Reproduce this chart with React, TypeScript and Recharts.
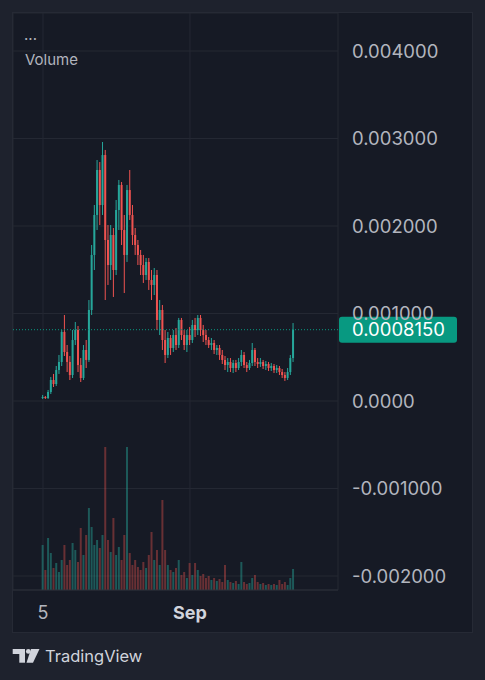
import React from 'react';
import { ComposedChart, Bar, XAxis, YAxis, CartesianGrid, ReferenceLine, Cell } from 'recharts';

// 12-hour candles, day offset counted from 5 Aug (day 0); 1 Sep = day 27
const FIRST_DAY = 0;
const STEP_DAYS = 0.5;

// OHLC in micro-units (x 1e-6)
const openMicro = [
  34, 46, 34, 103, 240, 194, 354, 446, 789, 560,
  446, 297, 697, 811, 411, 263, 583, 469, 1040, 1669,
  2126, 2640, 2240, 2811, 1840, 1554, 1897, 1497, 2183, 2469,
  1954, 1669, 2411, 2126, 1897, 1783, 1669, 1554, 1440, 1589,
  1383, 1326, 1440, 926, 1040, 697, 526, 720, 606, 754,
  640, 926, 754, 640, 754, 697, 869, 811, 949, 811,
  754, 697, 640, 663, 583, 606, 526, 469, 411, 446,
  377, 434, 377, 446, 526, 411, 377, 434, 583, 446,
  423, 446, 400, 423, 377, 400, 354, 377, 331, 297,
  263, 331, 491,
];
const closeMicro = [
  46, 34, 103, 240, 194, 354, 446, 789, 560, 446,
  297, 697, 811, 411, 263, 583, 469, 1040, 1669, 2126,
  2640, 2240, 2811, 1840, 1554, 1897, 1497, 2183, 2469, 1954,
  1669, 2411, 2126, 1897, 1783, 1669, 1554, 1440, 1589, 1383,
  1326, 1440, 926, 1040, 697, 526, 720, 606, 754, 640,
  926, 754, 640, 754, 697, 869, 811, 949, 811, 754,
  697, 640, 663, 583, 606, 526, 469, 411, 446, 377,
  434, 377, 446, 526, 411, 377, 434, 583, 446, 423,
  446, 400, 423, 377, 400, 354, 377, 331, 297, 263,
  331, 491, 815,
];
const highMicro = [
  69, 57, 126, 274, 309, 400, 526, 811, 983, 640,
  514, 811, 903, 857, 491, 640, 697, 1154, 1783, 2240,
  2754, 2731, 2960, 2869, 2011, 2011, 1977, 2297, 2526, 2503,
  2126, 2469, 2640, 2240, 1977, 1840, 1726, 1669, 1634, 1634,
  1497, 1520, 1497, 1154, 1097, 811, 789, 754, 811, 834,
  949, 949, 811, 811, 846, 926, 949, 983, 983, 869,
  811, 731, 720, 697, 640, 640, 583, 514, 491, 491,
  469, 469, 491, 583, 560, 446, 469, 663, 606, 491,
  491, 469, 457, 446, 434, 423, 411, 400, 366, 331,
  377, 526, 891,
];
const lowMicro = [
  23, 23, 23, 80, 160, 171, 309, 400, 514, 331,
  240, 263, 640, 331, 217, 240, 377, 446, 983, 1497,
  1954, 2011, 2126, 1154, 1326, 1383, 1189, 1440, 1954, 1783,
  1234, 1589, 2069, 1783, 1669, 1554, 1440, 1349, 1383, 1269,
  1154, 1211, 811, 754, 583, 434, 491, 526, 560, 583,
  606, 697, 583, 560, 640, 663, 731, 754, 743, 674,
  640, 606, 583, 537, 526, 469, 423, 354, 331, 331,
  320, 331, 354, 400, 377, 331, 354, 400, 400, 377,
  389, 366, 354, 343, 343, 320, 320, 297, 263, 229,
  240, 297, 446,
];
const volume = [
  45, 20, 52, 37, 22, 27, 18, 30, 45, 25,
  30, 47, 40, 28, 62, 35, 55, 82, 63, 45,
  50, 42, 55, 143, 50, 38, 72, 35, 43, 30,
  55, 143, 37, 25, 30, 23, 20, 28, 22, 35,
  58, 30, 40, 25, 90, 40, 25, 20, 18, 22,
  30, 15, 18, 12, 27, 15, 27, 20, 14, 16,
  12, 14, 10, 12, 9, 11, 8, 25, 10, 8,
  7, 9, 6, 28, 8, 6, 7, 12, 15, 8,
  6, 7, 5, 6, 5, 6, 5, 10, 6, 8,
  5, 12, 21,
];

const priceTicks = [0.004, 0.003, 0.002, 0.001, 0, -0.001, -0.002];
const timeTicks = [0, 27];
const timeTickLabels: Record<number, string> = { 0: '5', 27: 'Sep' };
const boldTimeTicks = [27];

const UP = '#26a69a';
const DOWN = '#ef5350';
const VOL_UP = 'rgba(38,166,154,0.45)';
const VOL_DOWN = 'rgba(239,83,80,0.38)';
const LAST_BG = '#089981';
const TEXT = '#b2b5be';
const GRID = '#242833';
const FONT = 'Inter, "Noto Sans", sans-serif';

const data = closeMicro.map((c, i) => {
  const open = openMicro[i] * 1e-6;
  const close = c * 1e-6;
  const high = highMicro[i] * 1e-6;
  const low = lowMicro[i] * 1e-6;
  return {
    day: FIRST_DAY + i * STEP_DAYS,
    open,
    close,
    high,
    low,
    range: [low, high],
    vol: volume[i],
    up: close >= open,
  };
});
const lastClose = data[data.length - 1].close;

const Candle = (props: any) => {
  const { x, y, width, height, payload } = props;
  if (x == null || y == null) return null;
  const top = Math.min(y, y + height);
  const h = Math.abs(height);
  const { open, close, high, low } = payload;
  const span = high - low || 1;
  const py = (v: number) => top + ((high - v) / span) * h;
  const color = close >= open ? UP : DOWN;
  const cx = x + width / 2;
  const bTop = py(Math.max(open, close));
  const bBot = py(Math.min(open, close));
  return (
    <g>
      <line x1={cx} x2={cx} y1={top} y2={top + h} stroke={color} strokeWidth={1} />
      <rect x={x} y={bTop} width={width} height={Math.max(1, bBot - bTop)} fill={color} />
    </g>
  );
};

const fmtPrice = (v: number) => (v === 0 ? '0.0000' : v.toFixed(6));

const PriceTick = (props: any) => {
  const { x, y, payload } = props;
  return (
    <text x={x + 14} y={y} dy="0.36em" fill={TEXT} fontSize={18.5} fontFamily={FONT} textAnchor="start">
      {fmtPrice(payload.value)}
    </text>
  );
};

const TimeTick = (props: any) => {
  const { x, y, payload } = props;
  const bold = boldTimeTicks.includes(payload.value);
  return (
    <text
      x={x}
      y={y + 23}
      dy="0.36em"
      fill={bold ? '#d1d4dc' : TEXT}
      fontSize={18}
      fontWeight={bold ? 700 : 400}
      fontFamily={FONT}
      textAnchor="middle"
    >
      {timeTickLabels[payload.value]}
    </text>
  );
};

const LastPriceLabel = (props: any) => {
  const vb = props.viewBox || {};
  const bx = vb.x + vb.width + 1;
  const by = vb.y;
  return (
    <g>
      <rect x={bx} y={by - 13} width={118} height={26} rx={3} fill={LAST_BG} />
      <text x={bx + 13} y={by} dy="0.36em" fill="#ffffff" fontSize={18.5} fontFamily={FONT}>
        {lastClose.toFixed(7)}
      </text>
    </g>
  );
};

export default function App() {
  return (
    <div
      style={{
        position: 'absolute',
        left: 0,
        top: 0,
        width: 485,
        height: 680,
        background: '#1e222d',
        fontFamily: FONT,
        overflow: 'hidden',
      }}
    >
      <div
        style={{
          position: 'absolute',
          left: 13,
          top: 13,
          width: 459,
          height: 619,
          background: '#161a25',
          outline: '1px solid #262a35',
        }}
      >
        <ComposedChart
          width={459}
          height={619}
          data={data}
          margin={{ top: 0, right: 0, bottom: 0, left: 0 }}
        >
          <CartesianGrid xAxisId="main" yAxisId="price" stroke={GRID} strokeWidth={1} />
          <XAxis
            xAxisId="main"
            dataKey="day"
            type="number"
            domain={[-5.51, 54.19]}
            allowDataOverflow
            ticks={timeTicks}
            tick={<TimeTick />}
            tickLine={false}
            tickSize={0}
            tickMargin={0}
            axisLine={{ stroke: '#2a2e39' }}
            height={42}
            interval={0}
          />
          <XAxis
            xAxisId="vol"
            dataKey="day"
            type="number"
            domain={[-5.51, 54.19]}
            allowDataOverflow
            hide
          />
          <YAxis
            yAxisId="price"
            orientation="right"
            type="number"
            domain={[-0.00216, 0.0044343]}
            allowDataOverflow
            ticks={priceTicks}
            tick={<PriceTick />}
            tickLine={false}
            tickSize={0}
            tickMargin={0}
            axisLine={false}
            width={134}
            interval={0}
          />
          <YAxis yAxisId="vol" type="number" domain={[0, 577]} allowDataOverflow hide />
          <Bar
            xAxisId="vol"
            yAxisId="vol"
            dataKey="vol"
            barSize={2}
            isAnimationActive={false}
          >
            {data.map((d, i) => (
              <Cell key={i} fill={d.up ? VOL_UP : VOL_DOWN} />
            ))}
          </Bar>
          <Bar
            xAxisId="main"
            yAxisId="price"
            dataKey="range"
            barSize={2}
            shape={<Candle />}
            isAnimationActive={false}
          />
          <ReferenceLine
            xAxisId="main"
            yAxisId="price"
            y={lastClose}
            stroke={LAST_BG}
            strokeDasharray="1 2"
            strokeWidth={1}
            label={<LastPriceLabel />}
          />
        </ComposedChart>
      </div>
      <div style={{ position: 'absolute', left: 24, top: 26, fontSize: 15, color: TEXT, lineHeight: '18px' }}>
        ...
      </div>
      <div style={{ position: 'absolute', left: 25, top: 51, fontSize: 15, color: TEXT, lineHeight: '18px' }}>
        Volume
      </div>
      <svg style={{ position: 'absolute', left: 12, top: 647 }} width={30} height={18}>
        <rect x={0.7} y={2} width={12.3} height={5} fill="#d1d4dc" />
        <rect x={7.3} y={2} width={5.7} height={13.7} fill="#d1d4dc" />
        <circle cx={16.3} cy={4.4} r={2.4} fill="#d1d4dc" />
        <polygon points="19,2 27.5,2 21,15.7 14.5,15.7" fill="#d1d4dc" />
      </svg>
      <div style={{ position: 'absolute', left: 45, top: 645, fontSize: 16.5, color: '#d1d4dc', lineHeight: '22px' }}>
        TradingView
      </div>
    </div>
  );
}
